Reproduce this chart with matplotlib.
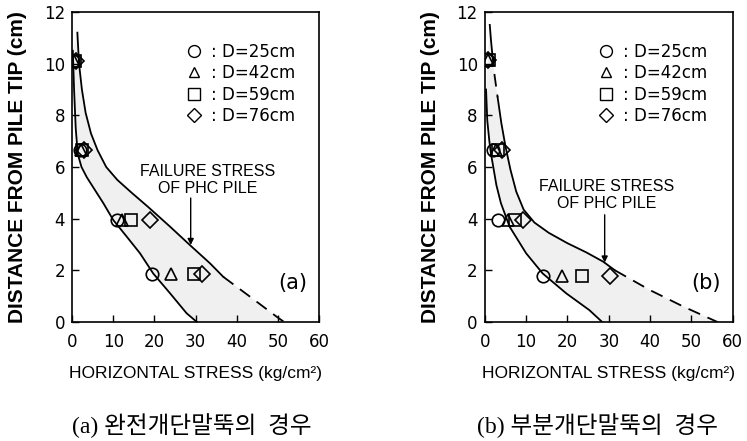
import matplotlib
matplotlib.use("Agg")
import matplotlib.pyplot as plt
from matplotlib.lines import Line2D
import numpy as np

plt.rcParams['font.family'] = ['DejaVu Sans']

# ---- 측정 데이터 (a) 완전개단말뚝 ----
depth_a = [10.1, 6.65, 3.95, 1.85]
stress_a = {
    'D=25cm': [0.3, 1.9, 11.0, 19.3],
    'D=42cm': [0.6, 2.2, 12.1, 23.9],
    'D=59cm': [0.8, 2.5, 14.4, 29.7],
    'D=76cm': [1.0, 2.8, 18.9, 31.5],
}
# 하한 곡선 / 상한 곡선 (a)
lower_a_x = [0.2, 0.5, 0.9, 1.4, 2.3, 3.6, 5.2, 7.6, 10.0, 13.3, 16.5, 19.7, 23.8, 27.8, 30.3]
lower_a_y = [10.5, 9.0, 7.5, 6.5, 6.0, 5.6, 5.2, 4.6, 3.95, 3.3, 2.66, 1.88, 1.11, 0.34, 0.0]
upper_a_solid_x = [1.3, 1.7, 2.4, 3.3, 4.6, 6.2, 8.3, 11.0, 14.5, 18.5, 23.8, 28.6, 33.5, 36.7]
upper_a_solid_y = [11.2, 10.0, 9.0, 8.1, 7.3, 6.65, 6.0, 5.5, 5.0, 4.45, 3.69, 2.98, 2.27, 1.75]
upper_a_dash_x = [36.7, 43.2, 49.7, 51.5]
upper_a_dash_y = [1.75, 0.98, 0.2, 0.0]

# ---- 측정 데이터 (b) 부분개단말뚝 ----
depth_b = [10.15, 6.65, 3.95, 1.8]
stress_b = {
    'D=25cm': [0.5, 1.9, 3.2, 14.0],
    'D=42cm': [0.7, 2.6, 5.7, 18.6],
    'D=59cm': [0.9, 3.3, 7.3, 23.6],
    'D=76cm': [0.8, 4.2, 9.2, 30.2],
}
lower_b_x = [0.3, 0.6, 1.1, 1.5, 1.9, 2.8, 3.9, 6.0, 10.0, 14.0, 19.7, 25.3, 28.4]
lower_b_y = [9.0, 7.8, 7.0, 6.5, 6.14, 5.3, 4.6, 3.69, 2.66, 1.88, 1.11, 0.46, 0.0]
upper_b_top_x = [1.2, 1.5, 1.8]
upper_b_top_y = [11.5, 10.9, 10.4]
upper_b_gap_x = [1.8, 2.4, 3.1]
upper_b_gap_y = [10.4, 9.5, 8.7]
upper_b_mid_x = [3.1, 4.0, 5.0, 6.2, 7.6, 9.4, 12.0, 15.5, 20.0, 24.5, 28.6, 31.5]
upper_b_mid_y = [8.7, 7.7, 6.8, 5.9, 5.05, 4.35, 3.85, 3.45, 3.05, 2.7, 2.34, 2.0]
upper_b_dash_x = [31.5, 39.9, 48.0, 56.3]
upper_b_dash_y = [2.0, 1.24, 0.6, 0.0]

markers = {'D=25cm': 'o', 'D=42cm': '^', 'D=59cm': 's', 'D=76cm': 'D'}
msize = {'D=25cm': 9, 'D=42cm': 8, 'D=59cm': 8.5, 'D=76cm': 8}

label_font = ['Liberation Sans', 'DejaVu Sans']
dash = (0, (7, 4.5))


def draw_panel(ax, depth, stress, lower_x, lower_y, solid_segs, dash_segs,
               arrow_x, arrow_y0, arrow_y1, text_x, text_y, tag, leg_anchor):
    # 음영 영역 (상한~하한 사이)
    ux, uy = [], []
    for sx, sy in sorted(solid_segs + dash_segs, key=lambda s: -s[1][0]):
        ux += list(sx)
        uy += list(sy)
    poly_x = ux + lower_x[::-1]
    poly_y = uy + lower_y[::-1]
    ax.fill(poly_x, poly_y, facecolor='#f0f0f0', edgecolor='none', zorder=1)

    ax.plot(lower_x, lower_y, color='black', lw=1.3, zorder=2)
    for sx, sy in solid_segs:
        ax.plot(sx, sy, color='black', lw=1.3, zorder=2)
    for sx, sy in dash_segs:
        ax.plot(sx, sy, color='black', lw=1.3, ls=dash, zorder=2)

    for key, vals in stress.items():
        ax.plot(vals, depth, ls='none', marker=markers[key], ms=msize[key],
                mfc='none', mec='black', mew=1.2, zorder=3)

    handles = [Line2D([], [], ls='none', marker=markers[k], ms=msize[k] * 0.95,
                      mfc='none', mec='black', mew=1.0) for k in stress]
    ax.legend(handles, [': ' + k for k in stress], loc='upper left',
              bbox_to_anchor=leg_anchor, frameon=False, fontsize=12,
              handlelength=0.9, handletextpad=0.55, labelspacing=0.2,
              borderpad=0, borderaxespad=0)

    ax.annotate('', xy=(arrow_x, arrow_y1), xytext=(arrow_x, arrow_y0),
                arrowprops=dict(arrowstyle='-|>', color='black', lw=1.0,
                                mutation_scale=9, shrinkA=0, shrinkB=0))
    ax.text(text_x, text_y, 'FAILURE STRESS\nOF PHC PILE', ha='center',
            va='center', fontsize=11.5, family=label_font, linespacing=1.15)
    ax.text(53.5, 1.5, tag, ha='center', va='center', fontsize=15)

    ax.set_xlim(0, 60)
    ax.set_ylim(0, 12)
    ax.set_xticks(np.arange(0, 61, 10))
    ax.set_yticks(np.arange(0, 13, 2))
    ax.tick_params(direction='in', length=5, width=1.0, labelsize=12)
    ax.tick_params(axis='x', pad=8)
    ax.tick_params(axis='y', pad=5)
    for sp in ax.spines.values():
        sp.set_linewidth(1.2)
    ax.set_xlabel('HORIZONTAL STRESS (kg/cm²)', fontsize=12.5,
                  family=label_font, labelpad=11)
    ax.set_ylabel('DISTANCE FROM PILE TIP (cm)', fontsize=15,
                  family=label_font, fontweight='bold', labelpad=12)


fig = plt.figure(figsize=(7.47, 4.41), dpi=100)
ax_a = fig.add_axes([0.0964, 0.2698, 0.331, 0.703])
ax_b = fig.add_axes([0.649, 0.2698, 0.332, 0.703])

draw_panel(ax_a, depth_a, stress_a, lower_a_x, lower_a_y,
           [(upper_a_solid_x, upper_a_solid_y)],
           [(upper_a_dash_x, upper_a_dash_y)],
           28.8, 4.8, 2.98, 33.0, 5.5, '(a)', (0.465, 0.90))

draw_panel(ax_b, depth_b, stress_b, lower_b_x, lower_b_y,
           [(upper_b_top_x, upper_b_top_y), (upper_b_mid_x, upper_b_mid_y)],
           [(upper_b_gap_x, upper_b_gap_y), (upper_b_dash_x, upper_b_dash_y)],
           29.0, 4.15, 2.3, 29.4, 4.92, '(b)', (0.46, 0.90))

cap_font = ['Liberation Serif', 'Noto Sans CJK KR']
fig.text(0.257, 0.035, '(a) 완전개단말뚝의  경우', ha='center', va='center',
         fontsize=17, family=cap_font)
fig.text(0.80, 0.035, '(b) 부분개단말뚝의  경우', ha='center', va='center',
         fontsize=17, family=cap_font)

fig.savefig('out.png', dpi=100, facecolor='white')
